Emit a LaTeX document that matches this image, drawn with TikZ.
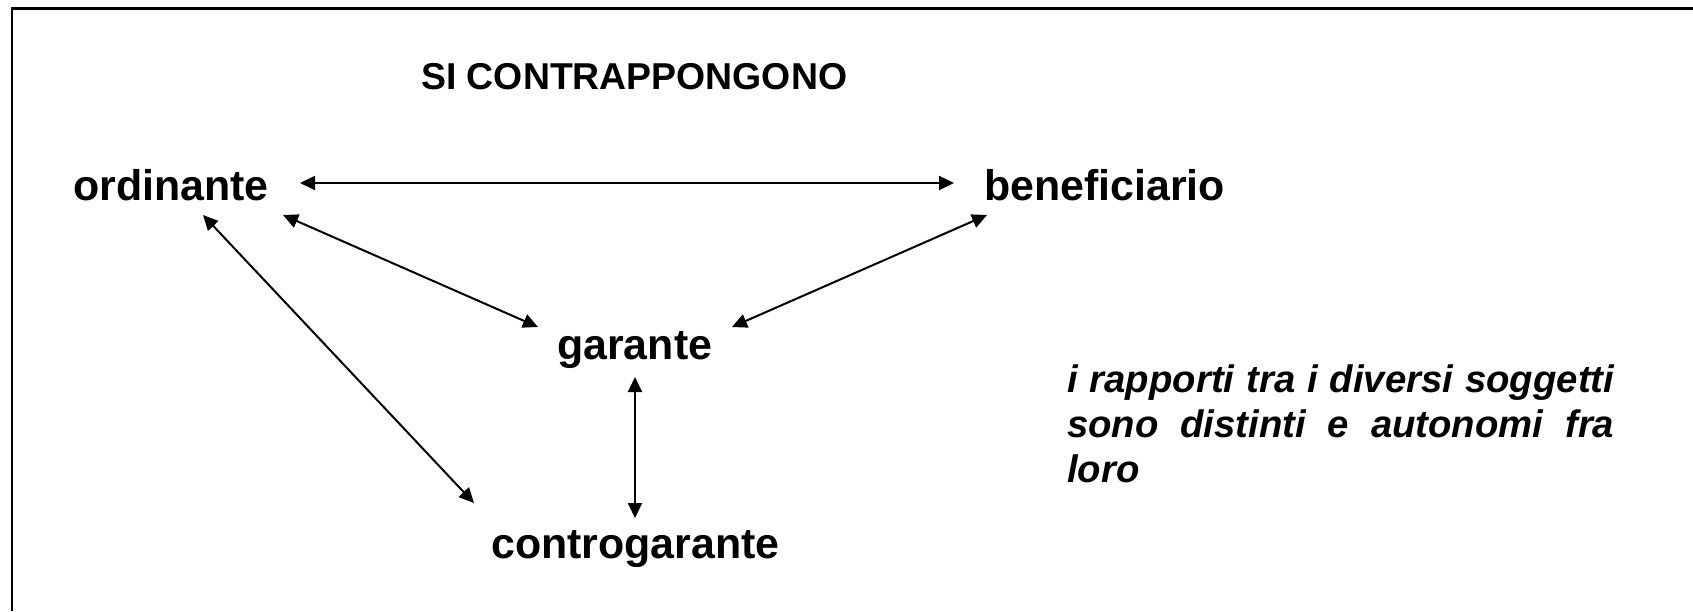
\documentclass[tikz,border=0pt]{standalone}
\usepackage{fontspec}
\setmainfont{Liberation Sans}
\usepackage{tikz}
\usetikzlibrary{arrows.meta}

\begin{document}
\begin{tikzpicture}[x=1pt,y=-1pt,
    party/.style={anchor=base west, inner sep=0pt, font=\fontsize{42.9}{48}\selectfont\bfseries},
    link/.style={line width=2pt, {Triangle[length=15pt,width=14pt]}-{Triangle[length=15pt,width=14pt]}}]
    % Page and frame
    \fill[white] (0,0) rectangle (1693,611);
    \useasboundingbox (0,0) rectangle (1693,611);
    \draw[line width=2.5pt] (1693,8.5) -- (12,8.5) -- (12,611);

    % Title
    \node[anchor=base west, inner sep=0pt, font=\fontsize{37.4}{42}\selectfont\bfseries] (title) at (421,89) {SI CONTRAPPONGONO};

    % Parties
    \node[party] (ord) at (73,200) {ordinante};
    \node[party] (ben) at (984,200) {beneficiario};
    \node[party] (gar) at (557,359) {garante};
    \node[party] (ctr) at (491,558) {controgarante};

    % Relations
    \draw[link] ([shift={(227,-17)}]ord.base west) -- ([shift={(-30,-17)}]ben.base west);
    \draw[link] ([shift={(210,15)}]ord.base west) -- ([shift={(-19,-32)}]gar.base west);
    \draw[link] ([shift={(130,15)}]ord.base west) -- ([shift={(-17,-55)}]ctr.base west);
    \draw[link] ([shift={(3,15)}]ben.base west) -- ([shift={(175,-32)}]gar.base west);
    \draw[link] ([shift={(78,18)}]gar.base west) -- ([shift={(144,-40)}]ctr.base west);

    % Note
    \node[anchor=base west, inner sep=0pt, text width=547pt, align=justify,
          font=\fontsize{38.3}{45}\selectfont\bfseries\itshape] (note) at (1067,392)
          {i rapporti tra i diversi soggetti sono distinti e autonomi fra loro};
\end{tikzpicture}
\end{document}
